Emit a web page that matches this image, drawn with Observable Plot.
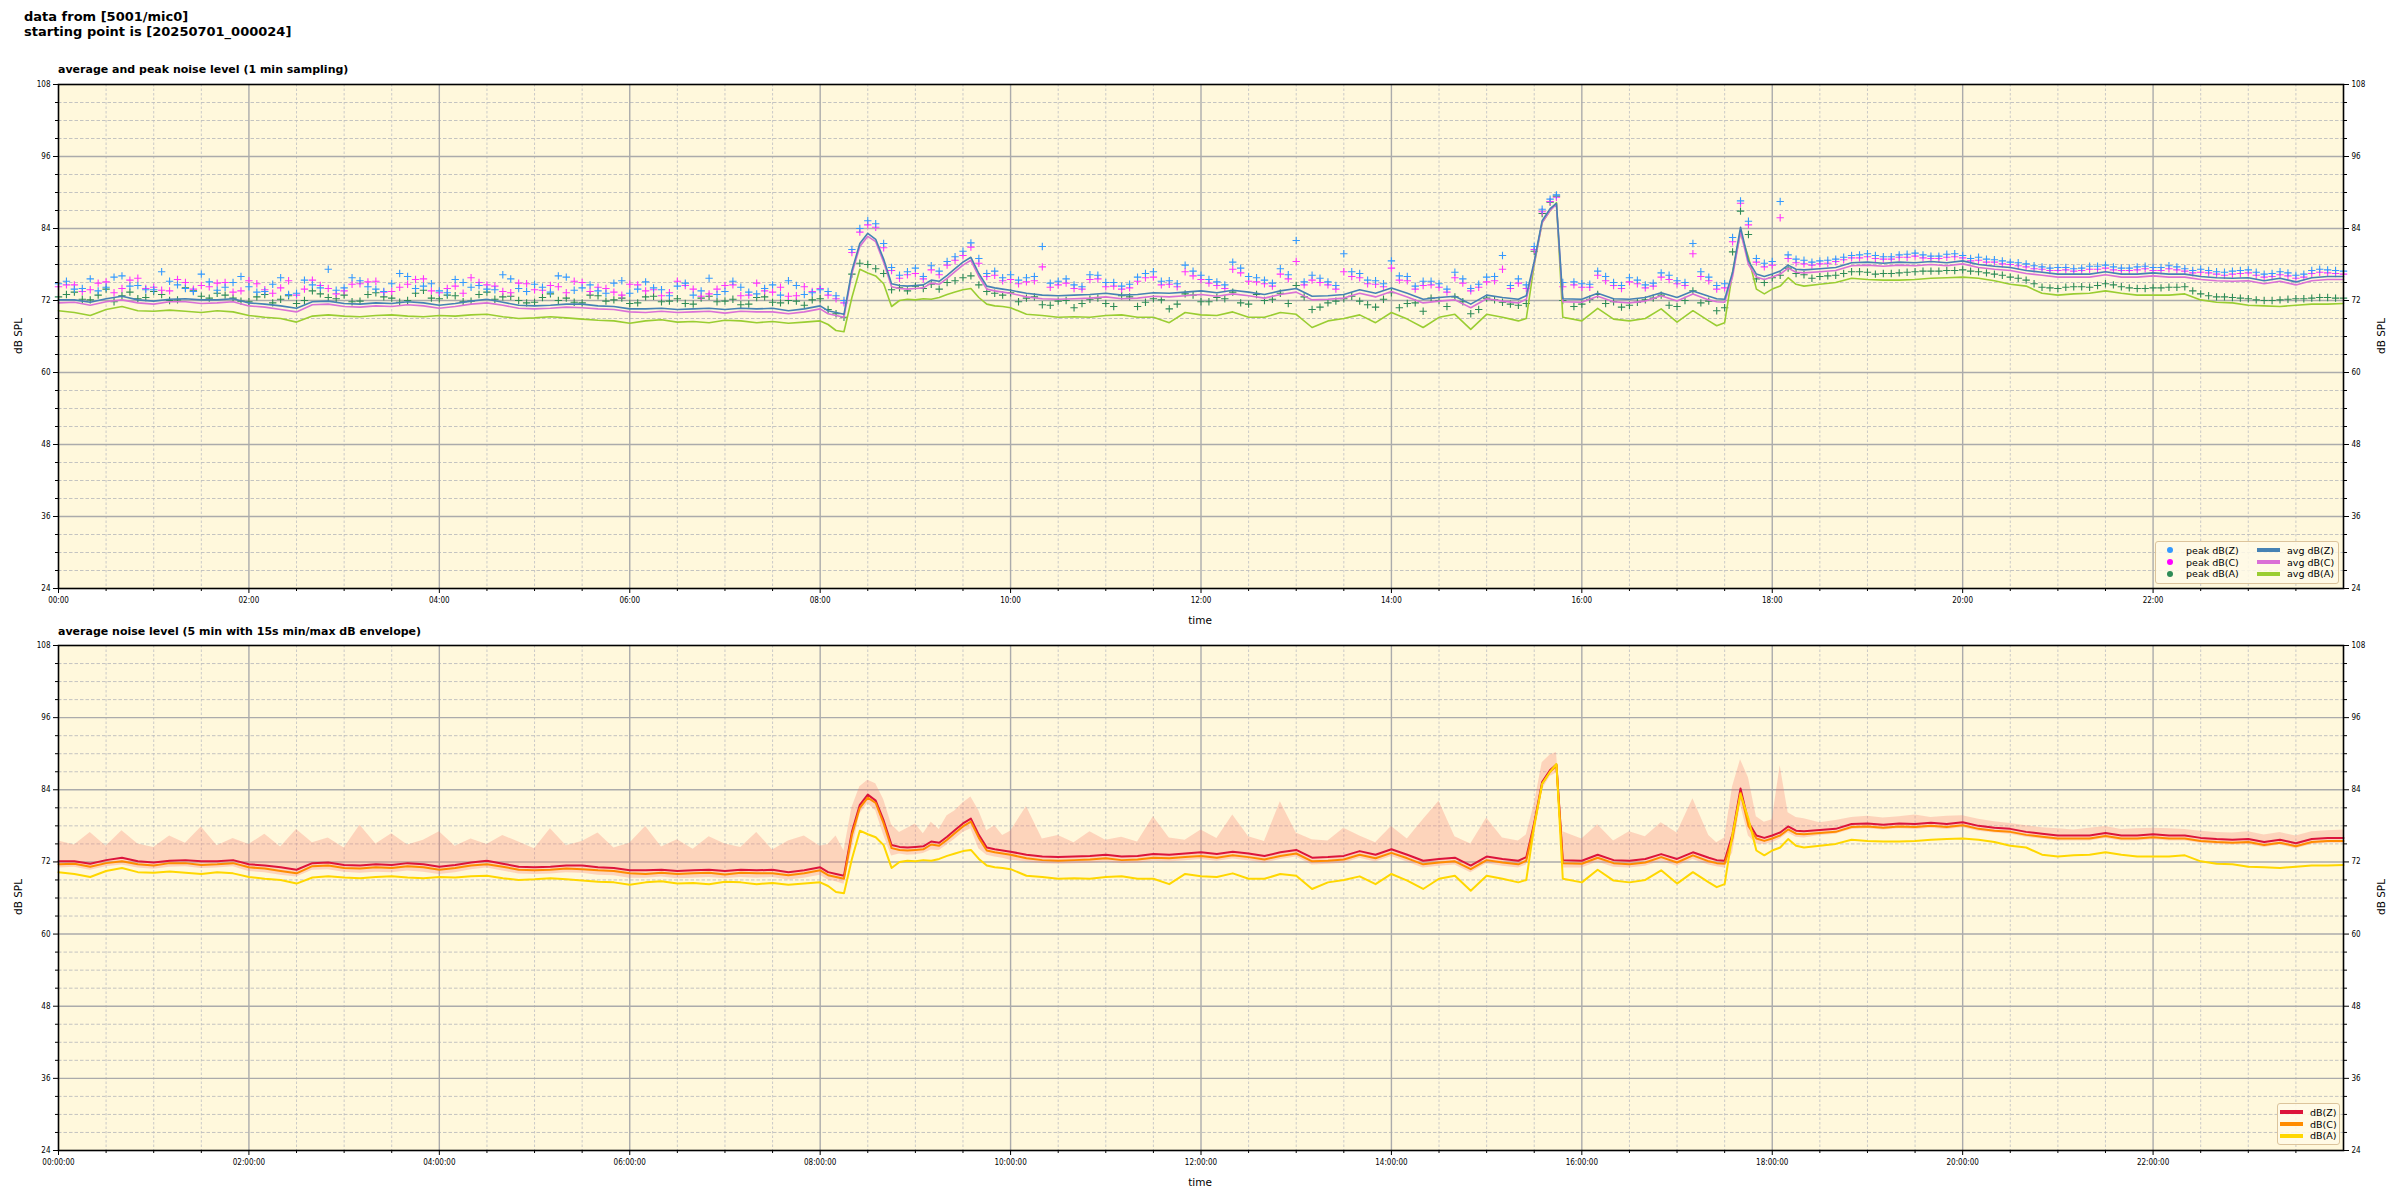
<!DOCTYPE html>
<html><head><meta charset="utf-8">
<script src="https://cdn.jsdelivr.net/npm/d3@7"></script>
<script src="https://cdn.jsdelivr.net/npm/@observablehq/plot@0.6"></script>
<style>
body{margin:0;background:#fff;font-family:"DejaVu Sans",sans-serif;color:#000;}
#root{position:relative;width:2400px;height:1200px;overflow:hidden;}
.abs{position:absolute;white-space:nowrap;}
.title{left:24px;top:10px;font-weight:bold;font-size:13px;line-height:14.5px;}
.sub{left:58px;font-weight:bold;font-size:11px;}
.axl{font-size:10.5px;transform:translate(-50%,-50%);}
.axr{font-size:10.5px;transform:translate(-50%,-50%) rotate(-90deg);}
.legend{position:absolute;background:rgba(255,250,232,0.85);border:1px solid #dcc49c;border-radius:3px;font-size:9.5px;}
.legend span{position:absolute;white-space:nowrap;}
.svgwrap{position:absolute;left:0;}
</style></head>
<body><div id="root">
<div class="abs title">data from [5001/mic0]<br>starting point is [20250701_000024]</div>
<div class="abs sub" style="top:63px">average and peak noise level (1 min sampling)</div>
<div class="abs sub" style="top:625px">average noise level (5 min with 15s min/max dB envelope)</div>
<div id="topchart" class="svgwrap" style="top:64px"></div>
<div id="botchart" class="svgwrap" style="top:625px"></div>
<div class="abs axl" style="left:1200px;top:620px">time</div>
<div class="abs axl" style="left:1200px;top:1182px">time</div>
<div class="abs axr" style="left:18px;top:336px">dB SPL</div>
<div class="abs axr" style="left:2381px;top:336px">dB SPL</div>
<div class="abs axr" style="left:18px;top:897px">dB SPL</div>
<div class="abs axr" style="left:2381px;top:897px">dB SPL</div>
<div id="leg1" class="legend" style="left:2155px;top:541px;width:182px;height:41px;"></div>
<div id="leg2" class="legend" style="left:2277px;top:1103px;width:61px;height:40px;"></div>
</div>
<script>
// sample times (minutes after 00:00)
const times = [
0,10,20,30,40,50,60,70,80,90,100,110,120,130,140,150,160,170,180,190,200,210,220,230,240,250,260,270,280,290,300,310,320,330,340,350,360,370,380,390,400,410,420,430,440,450,460,470,480,
485,490,495,500,505,510,515,520,525,530,535,540,545,550,555,560,565,570,575,580,585,590,595,600,
610,620,630,640,650,660,670,680,690,700,710,720,730,740,750,760,770,780,790,800,810,820,830,840,850,860,870,880,890,900,910,920,
925,930,935,940,944,948,
960,970,980,990,1000,1010,1020,1030,1040,
1045,1050,1055,1060,1065,1070,1075,1080,1085,1090,1095,1100,
1110,1120,1130,1140,1150,1160,1170,1180,1190,1200,1210,1220,1230,1240,1250,1260,1270,1280,1290,1300,1310,1320,1330,1340,1350,1360,1370,1380,1390,1400,1410,1420,1430,1440];

const avgZ = [
72.1,72.1,71.7,72.3,72.7,72.1,71.9,72.2,72.3,72.1,72.1,72.3,71.6,71.4,71.1,70.7,71.8,71.9,71.5,71.4,71.6,71.5,71.8,71.6,71.2,71.5,71.9,72.2,71.7,71.2,71.1,71.2,71.4,71.4,71.1,71.0,70.6,70.6,70.7,70.5,70.6,70.7,70.5,70.7,70.6,70.7,70.3,70.6,71.1,
70.3,70.0,69.7,77.0,81.5,83.2,82.2,78.9,74.8,74.5,74.4,74.5,74.6,75.4,75.2,76.2,77.3,78.4,79.2,76.5,74.4,74.1,73.9,73.7,
73.2,72.9,72.8,72.9,73.0,73.2,72.9,73.0,73.3,73.2,73.4,73.6,73.3,73.7,73.4,73.0,73.6,74.0,72.7,72.8,73.0,73.8,73.2,74.1,73.2,72.2,72.5,72.7,71.4,72.9,72.5,72.2,
72.8,78.5,85.3,87.3,88.2,72.3,
72.2,73.2,72.3,72.2,72.5,73.3,72.5,73.6,72.7,
72.3,72.2,76.7,84.2,78.6,76.4,76.0,76.4,76.9,77.9,77.2,77.1,
77.3,77.5,78.3,78.4,78.2,78.4,78.3,78.5,78.3,78.6,78.0,77.7,77.5,77.0,76.7,76.4,76.4,76.4,76.8,76.4,76.4,76.6,76.4,76.4,76.0,75.8,75.7,75.8,75.3,75.7,75.1,75.8,76.0,76.0];

const avgC = [
71.6,71.7,71.2,71.8,72.1,71.6,71.4,71.8,71.8,71.5,71.6,71.8,71.1,70.9,70.5,70.1,71.3,71.4,71.0,70.9,71.1,71.0,71.3,71.1,70.7,71.0,71.4,71.6,71.2,70.7,70.6,70.7,70.9,70.8,70.6,70.5,70.1,70.0,70.2,70.0,70.1,70.2,69.9,70.2,70.1,70.1,69.8,70.1,70.6,
69.8,69.5,69.2,76.5,81.0,82.7,81.8,78.4,74.3,74.0,73.9,74.0,74.1,74.9,74.7,75.7,76.8,77.9,78.7,76.0,73.9,73.6,73.4,73.2,
72.6,72.3,72.2,72.3,72.4,72.6,72.3,72.4,72.7,72.6,72.8,73.0,72.7,73.1,72.8,72.4,73.0,73.4,72.1,72.2,72.4,73.2,72.6,73.5,72.6,71.6,71.9,72.1,70.8,72.3,71.9,71.6,
72.2,78.2,85.0,87.0,88.0,71.8,
71.7,72.7,71.8,71.6,71.9,72.8,71.9,73.1,72.1,
71.8,71.7,76.0,83.5,78.0,75.9,75.5,75.9,76.4,77.4,76.7,76.6,
76.8,77.0,77.8,77.9,77.7,77.9,77.8,78.0,77.8,78.1,77.5,77.2,77.0,76.5,76.2,75.9,75.9,75.9,76.3,75.9,75.9,76.1,75.9,75.9,75.5,75.3,75.2,75.3,74.8,75.2,74.6,75.3,75.5,75.5];

const avgA = [
70.3,70.0,69.5,70.5,71.0,70.3,70.2,70.4,70.2,70.0,70.3,70.1,69.5,69.2,69.0,68.4,69.4,69.6,69.4,69.3,69.5,69.6,69.4,69.3,69.5,69.4,69.6,69.7,69.3,69.0,69.1,69.3,69.1,68.9,68.7,68.6,68.2,68.6,68.8,68.4,68.5,68.3,68.7,68.6,68.3,68.5,68.2,68.4,68.6,
68.0,67.0,66.8,72.5,77.2,76.6,76.1,74.8,71.0,72.0,72.2,72.1,72.3,72.2,72.5,73.0,73.4,73.8,74.0,72.5,71.4,71.1,71.0,70.8,
69.7,69.5,69.2,69.3,69.2,69.5,69.6,69.2,69.2,68.3,70.0,69.6,69.5,70.1,69.2,69.2,70.0,69.7,67.5,68.6,69.0,69.6,68.3,70.0,68.9,67.5,69.2,69.7,67.2,69.7,69.2,68.6,
69.0,78.0,85.0,87.0,88.3,69.2,
68.6,70.7,68.9,68.6,69.0,70.6,68.4,70.3,68.6,
67.8,68.3,76.7,83.3,79.2,73.9,73.1,73.9,74.4,75.8,74.7,74.4,
74.7,75.0,75.7,75.5,75.4,75.4,75.5,75.7,75.8,75.9,75.7,75.3,74.7,74.4,73.2,72.9,73.1,73.2,73.6,73.2,72.9,72.9,72.9,73.1,72.1,71.7,71.6,71.2,71.1,71.0,71.2,71.4,71.4,71.5];

const peakZ = [
74.8,73.9,75.6,74.2,76.1,74.5,73.8,75.2,74.0,76.4,73.7,75.0,74.3,73.5,75.8,73.2,74.6,77.2,74.1,75.3,73.9,74.8,76.0,74.4,73.6,75.5,74.2,73.9,76.3,74.0,74.7,73.4,75.9,74.1,73.6,74.9,73.2,75.1,73.8,74.4,72.9,75.7,73.5,74.2,73.1,74.6,75.3,73.0,73.8,
73.5,72.8,72.0,80.5,84.0,85.3,84.8,81.5,77.5,76.2,76.8,77.4,76.0,77.8,76.9,78.5,79.3,80.2,81.6,79.0,76.5,76.9,75.8,76.3,
75.8,81.0,75.2,74.6,76.3,75.0,74.4,75.9,76.8,75.3,77.9,76.2,75.1,78.4,76.0,75.4,77.3,82.0,76.2,75.1,79.8,76.5,75.3,78.6,76.0,75.2,74.8,76.7,74.0,75.9,79.5,75.6,
74.6,81.0,87.2,88.9,89.6,75.0,
74.8,76.9,75.0,75.8,74.6,76.6,75.3,81.5,75.9,
74.5,74.8,82.5,88.6,85.2,79.0,78.2,78.5,88.5,79.6,78.9,78.7,
78.6,78.9,79.5,79.8,79.3,79.6,79.9,79.4,79.7,79.5,79.2,78.8,78.4,78.1,77.6,77.5,77.3,77.7,77.9,77.4,77.6,77.5,77.8,77.3,77.2,76.8,76.9,77.1,76.4,76.8,76.2,77.0,77.1,76.9];

const peakC = [
74.3,74.6,73.8,75.1,74.0,75.7,74.2,73.6,75.0,74.5,74.9,73.4,75.3,73.8,74.1,72.9,75.4,74.0,73.6,74.8,75.2,73.5,74.7,75.6,73.3,74.4,75.8,74.6,73.5,74.9,73.8,74.5,73.3,75.0,74.2,73.4,74.7,73.6,72.8,75.2,73.9,73.1,74.5,72.8,74.9,73.4,72.7,74.3,74.0,
72.9,72.3,71.6,80.0,83.4,84.6,84.2,80.8,77.0,75.7,76.3,76.5,75.6,77.1,76.3,77.9,78.7,79.5,80.9,78.2,76.0,76.2,75.3,75.5,
75.1,77.6,74.6,74.0,75.5,74.3,73.9,75.2,75.9,74.7,76.8,75.5,74.5,77.2,75.2,74.8,76.4,78.5,75.4,74.6,76.8,75.8,74.7,77.4,75.3,74.5,74.2,75.8,73.6,75.1,77.2,74.9,
74.0,80.5,86.8,88.5,89.2,74.3,
74.2,76.2,74.5,75.1,74.1,75.9,74.8,79.8,75.3,
73.9,74.1,81.8,88.2,84.6,78.4,77.6,77.9,85.8,79.0,78.3,78.1,
78.1,78.5,79.1,79.3,78.9,79.2,79.4,79.0,79.2,79.1,78.7,78.4,78.0,77.6,77.2,77.0,76.9,77.2,77.4,77.0,77.1,77.0,77.3,76.9,76.7,76.4,76.4,76.6,75.9,76.3,75.7,76.5,76.6,76.4];

const peakA = [
72.6,73.4,72.1,73.9,72.8,72.3,73.5,72.0,74.1,72.7,73.2,72.4,71.8,73.0,72.2,71.5,73.6,72.5,72.9,71.9,73.3,72.4,72.0,73.7,72.3,72.8,71.9,73.4,72.6,72.0,71.7,73.1,72.4,71.6,72.8,72.1,71.5,72.6,71.8,72.3,71.4,72.7,71.9,71.3,72.5,71.7,72.0,71.2,72.3,
70.5,69.8,69.2,76.4,78.2,78.0,77.3,76.5,73.8,74.1,73.6,74.4,74.0,74.7,73.9,75.0,75.3,75.8,76.1,74.6,73.5,73.2,72.9,73.3,
72.4,71.3,71.9,70.8,72.2,71.5,72.8,71.0,72.3,70.6,73.1,71.8,72.5,73.4,71.4,72.0,73.2,74.5,70.5,71.6,72.3,71.9,70.9,73.3,71.5,70.2,72.0,72.6,69.8,72.4,71.7,71.2,
71.5,80.2,86.5,88.4,89.4,72.0,
71.4,73.0,71.8,71.2,72.1,72.9,71.0,73.6,71.9,
70.3,70.8,80.1,86.9,83.0,75.6,75.0,75.8,76.2,77.4,76.5,76.3,
76.0,76.2,76.8,76.7,76.5,76.6,76.8,76.9,77.0,77.1,76.8,76.4,75.9,75.4,74.2,74.0,74.3,74.2,74.8,74.3,74.0,74.1,74.2,74.3,73.1,72.6,72.5,72.3,72.0,72.1,72.3,72.4,72.5,72.4];

// additional peak samples in between the main sample times
const peakTimes2 = [
5,15,25,35,45,55,65,75,85,95,105,115,125,135,145,155,165,175,185,195,205,215,225,235,245,255,265,275,285,295,305,315,325,335,345,355,365,375,385,395,405,415,425,435,445,455,465,475,
605,615,625,635,645,655,665,675,685,695,705,715,725,735,745,755,765,775,785,795,805,815,825,835,845,855,865,875,885,895,905,915,
955,965,975,985,995,1005,1015,1025,1035,
1105,1115,1125,1135,1145,1155,1165,1175,1185,1195,1205,1215,1225,1235,1245,1255,1265,1275,1285,1295,1305,1315,1325,1335,1345,1355,1365,1375,1385,1395,1405,1415,1425,1435];

const peakZ2 = [
75.2,74.0,73.6,75.9,74.4,73.8,76.8,74.6,73.5,75.1,74.2,76.0,73.4,74.7,73.0,75.4,74.1,73.7,75.8,74.3,73.5,76.5,74.0,74.8,73.3,75.0,74.5,73.8,75.6,73.5,74.2,76.1,73.7,74.6,73.2,75.3,73.9,74.1,72.8,74.9,73.6,73.0,75.2,73.4,74.0,72.9,74.5,73.3,
75.4,76.0,74.9,75.6,74.3,76.2,75.0,74.7,76.5,75.2,74.8,76.9,75.5,74.6,77.4,75.8,74.9,76.3,75.1,75.7,74.5,76.8,75.4,74.8,76.1,74.4,75.2,73.9,75.6,74.7,76.0,74.5,
75.1,74.7,76.0,74.5,75.4,74.9,76.2,75.0,76.8,
78.4,78.7,79.2,79.6,79.5,79.3,79.7,79.6,79.4,79.8,79.0,78.9,78.6,78.3,77.8,77.4,77.5,77.4,77.7,77.6,77.4,77.7,77.5,77.6,77.0,77.0,76.7,77.0,76.7,76.5,76.6,76.4,77.2,77.0];

const peakC2 = [
74.6,73.5,74.9,73.3,75.4,74.0,73.7,75.5,73.9,74.3,75.0,73.6,74.8,73.2,75.3,73.9,74.5,73.1,74.7,75.1,73.4,74.2,75.5,73.6,74.0,73.2,75.0,74.4,73.3,74.8,73.7,74.3,75.2,73.5,74.0,72.9,74.6,73.8,73.3,74.5,72.7,73.9,74.6,72.9,73.6,74.2,72.8,73.5,
74.8,75.3,74.2,74.9,73.9,75.6,74.4,74.1,75.8,74.6,74.3,76.1,74.9,74.0,76.6,75.1,74.4,75.6,74.6,75.0,73.9,76.0,74.8,74.3,75.4,73.9,74.6,73.4,74.9,74.2,75.3,74.0,
74.6,74.2,75.3,74.0,74.8,74.4,75.5,74.5,76.0,
77.9,78.2,78.8,79.1,79.0,78.9,79.2,79.1,79.0,79.3,78.6,78.4,78.1,77.8,77.3,77.0,77.1,77.0,77.2,77.1,77.0,77.3,77.0,77.1,76.6,76.6,76.2,76.5,76.2,76.0,76.1,75.9,76.7,76.5];

const peakA2 = [
73.0,72.2,72.9,71.8,73.4,72.5,73.0,72.1,73.6,72.4,72.9,71.9,72.6,71.6,72.8,72.0,73.1,72.3,71.8,73.0,72.6,71.7,73.2,72.4,72.9,71.8,73.0,72.2,72.7,71.6,72.5,72.0,71.7,72.9,71.9,72.4,71.6,72.7,71.9,71.5,72.4,71.8,72.2,71.4,72.6,71.6,71.9,72.1,
71.8,72.6,71.2,72.0,71.5,72.4,71.0,72.6,71.7,72.1,71.4,72.9,71.8,72.3,71.6,73.0,72.2,71.5,72.6,70.9,71.9,72.7,71.3,72.2,70.8,71.6,72.4,71.0,71.8,70.5,72.1,71.4,
71.0,72.2,71.5,70.9,71.7,72.4,71.2,72.0,71.6,
75.7,76.1,76.5,76.8,76.4,76.5,76.7,76.9,76.9,77.0,76.9,76.6,76.2,75.7,74.8,74.1,74.2,74.3,74.5,74.6,74.1,74.0,74.1,74.2,73.6,72.8,72.6,72.4,72.1,72.0,72.2,72.3,72.5,72.4];

// 15 s min/max envelope
const envMax = [
75.5,74.8,76.9,74.6,77.2,75.0,74.4,76.3,75.1,77.8,74.7,75.9,74.9,76.6,74.5,77.4,75.2,76.0,74.3,78.1,75.0,76.7,74.8,75.6,77.0,74.6,75.8,74.9,76.4,75.3,74.2,77.5,74.7,75.4,76.8,74.3,75.1,77.9,74.5,75.7,74.1,76.2,75.0,74.4,76.9,74.0,75.5,76.3,74.6,
74.9,76.3,73.8,81.0,84.5,85.6,85.0,82.4,78.2,76.9,77.6,78.3,76.7,78.6,77.4,79.7,80.5,81.8,82.8,80.5,77.2,78.0,76.4,77.1,
81.2,75.8,76.4,75.2,77.0,75.6,76.1,75.3,79.5,76.0,75.6,77.3,75.9,79.8,76.2,75.4,82.0,76.8,75.7,75.5,77.6,76.3,75.2,77.9,75.8,79.0,82.1,76.2,75.0,79.3,76.0,75.5,
76.5,81.5,88.5,89.8,90.2,77.0,
75.8,78.2,75.5,77.0,76.2,78.5,76.8,82.5,76.4,
75.2,76.0,84.5,89.0,86.0,79.5,78.6,79.0,88.0,80.2,79.4,79.2,
78.5,78.9,79.4,79.6,79.3,79.5,79.8,79.4,79.6,79.7,79.1,78.7,78.4,78.0,77.7,77.5,77.3,77.6,77.9,77.4,77.5,77.6,77.5,77.4,77.1,76.9,76.8,77.0,76.5,76.9,76.3,77.0,77.2,77.3];

const envMin = [
71.0,71.1,70.6,71.2,71.5,71.0,70.8,71.1,71.2,70.9,71.0,71.2,70.4,70.2,69.8,69.5,70.6,70.7,70.3,70.1,70.3,70.2,70.5,70.3,69.9,70.2,70.7,71.0,70.5,70.0,69.9,70.0,70.2,70.1,69.8,69.7,69.3,69.3,69.5,69.2,69.3,69.4,69.2,69.4,69.3,69.4,69.0,69.3,69.8,
69.0,68.7,68.3,74.0,80.0,81.7,80.5,76.5,73.0,73.3,73.1,73.2,73.4,74.0,73.9,74.8,75.8,76.9,77.5,74.2,73.1,72.8,72.6,72.3,
72.0,71.7,71.6,71.7,71.8,72.0,71.7,71.8,72.1,72.0,72.2,72.4,72.1,72.5,72.2,71.8,72.4,72.8,71.5,71.6,71.8,72.6,72.0,72.9,72.0,71.0,71.3,71.5,70.2,71.7,71.3,71.0,
71.5,76.0,84.0,86.2,86.8,71.0,
71.0,72.0,71.1,71.0,71.3,72.1,71.3,72.4,71.5,
71.2,71.0,73.5,81.5,76.3,75.0,74.9,75.2,75.8,76.8,76.1,76.0,
76.4,76.6,77.4,77.5,77.3,77.5,77.4,77.6,77.4,77.7,77.1,76.8,76.6,76.1,75.8,75.5,75.5,75.5,75.9,75.5,75.5,75.7,75.5,75.5,75.1,74.9,74.8,74.9,74.4,74.8,74.2,74.9,75.1,75.1];

// tick values
const majorXTicks = [0,120,240,360,480,600,720,840,960,1080,1200,1320];
const minorXTicks = d3.range(30, 1440, 30).filter(m => m % 120 !== 0);
const majorYTicks = [24,36,48,60,72,84,96,108];
const minorYTicks = d3.range(27, 108, 3).filter(v => v % 12 !== 0);

(function () {
const pad = n => String(n).padStart(2, "0");
const fmtHM = m => pad(Math.floor(m / 60)) + ":" + pad(m % 60);
const fmtHMS = m => fmtHM(m) + ":00";

const rows = times.map((t, i) => ({
  t, avgZ: avgZ[i], avgC: avgC[i], avgA: avgA[i],
  peakZ: peakZ[i], peakC: peakC[i], peakA: peakA[i],
  envMax: envMax[i], envMin: envMin[i]
}));
const peakRows = rows.map(r => ({t: r.t, peakZ: r.peakZ, peakC: r.peakC, peakA: r.peakA}))
  .concat(peakTimes2.map((t, i) => ({t, peakZ: peakZ2[i], peakC: peakC2[i], peakA: peakA2[i]})));

function frameMarks() {
  return [
    Plot.frame({fill: "#fff8dc", stroke: "none"}),
    Plot.gridX({ticks: minorXTicks, stroke: "#c4c4c4", strokeOpacity: 1, strokeWidth: 0.9, strokeDasharray: "2.5,2"}),
    Plot.gridY({ticks: minorYTicks, stroke: "#bdbdbd", strokeOpacity: 1, strokeWidth: 0.9, strokeDasharray: "3.5,2"}),
    Plot.gridX({ticks: majorXTicks.slice(1), stroke: "#ababab", strokeOpacity: 1, strokeWidth: 1.4}),
    Plot.gridY({ticks: majorYTicks.slice(1, -1), stroke: "#ababab", strokeOpacity: 1, strokeWidth: 1.4})
  ];
}
function axisMarks(fmt) {
  return [
    Plot.frame({stroke: "#000", strokeWidth: 1.6}),
    Plot.axisX({ticks: majorXTicks, tickFormat: fmt, tickSize: 5, tickPadding: 4, label: null}),
    Plot.axisX({ticks: minorXTicks, tickFormat: () => "", tickSize: 3, label: null}),
    Plot.axisY({anchor: "left", ticks: majorYTicks, tickFormat: d => String(d), tickSize: 5, tickPadding: 3, label: null}),
    Plot.axisY({anchor: "left", ticks: minorYTicks, tickFormat: () => "", tickSize: 3, label: null}),
    Plot.axisY({anchor: "right", ticks: majorYTicks, tickFormat: d => String(d), tickSize: 5, tickPadding: 3, label: null}),
    Plot.axisY({anchor: "right", ticks: minorYTicks, tickFormat: () => "", tickSize: 3, label: null})
  ];
}
const common = {
  width: 2400, marginLeft: 58, marginRight: 57, marginTop: 20, marginBottom: 45,
  x: {domain: [0, 1440]},
  y: {domain: [24, 108]},
  style: {background: "transparent", fontFamily: "DejaVu Sans", fontSize: "8px", overflow: "visible", fontStretch: "condensed"}
};

const topPlot = Plot.plot({
  ...common, height: 569,
  marks: [
    ...frameMarks(),
    Plot.dot(peakRows, {x: "t", y: "peakA", symbol: "plus", r: 2.5, stroke: "#2e8b57", strokeWidth: 1.1}),
    Plot.dot(peakRows, {x: "t", y: "peakC", symbol: "plus", r: 2.5, stroke: "#ff33ff", strokeWidth: 1.1}),
    Plot.dot(peakRows, {x: "t", y: "peakZ", symbol: "plus", r: 2.5, stroke: "#3399ff", strokeWidth: 1.1}),
    Plot.line(rows, {x: "t", y: "avgA", stroke: "#9acd32", strokeWidth: 1.6}),
    Plot.line(rows, {x: "t", y: "avgC", stroke: "#da70d6", strokeWidth: 1.6}),
    Plot.line(rows, {x: "t", y: "avgZ", stroke: "#4682b4", strokeWidth: 1.6}),
    ...axisMarks(fmtHM)
  ]
});
document.getElementById("topchart").appendChild(topPlot);

const botPlot = Plot.plot({
  ...common, height: 570,
  marks: [
    ...frameMarks(),
    Plot.areaY(rows, {x: "t", y1: "envMin", y2: "envMax", fill: "#fa8072", fillOpacity: 0.3}),
    Plot.line(rows, {x: "t", y: "avgZ", stroke: "#dc143c", strokeWidth: 2}),
    Plot.line(rows, {x: "t", y: "avgC", stroke: "#ff8c00", strokeWidth: 2}),
    Plot.line(rows, {x: "t", y: "avgA", stroke: "#ffd700", strokeWidth: 2}),
    ...axisMarks(fmtHMS)
  ]
});
document.getElementById("botchart").appendChild(botPlot);

// legends
const leg1Items = [
  {kind: "dot", color: "#3399ff", label: "peak dB(Z)", col: 0, row: 0},
  {kind: "dot", color: "#ff00ff", label: "peak dB(C)", col: 0, row: 1},
  {kind: "dot", color: "#2e8b57", label: "peak dB(A)", col: 0, row: 2},
  {kind: "line", color: "#4682b4", label: "avg dB(Z)", col: 1, row: 0},
  {kind: "line", color: "#da70d6", label: "avg dB(C)", col: 1, row: 1},
  {kind: "line", color: "#9acd32", label: "avg dB(A)", col: 1, row: 2}
];
const leg2Items = [
  {kind: "line", color: "#dc143c", label: "dB(Z)", col: 0, row: 0},
  {kind: "line", color: "#ff8c00", label: "dB(C)", col: 0, row: 1},
  {kind: "line", color: "#ffd700", label: "dB(A)", col: 0, row: 2}
];
function buildLegend(el, items, colX, rowY) {
  for (const it of items) {
    const x0 = colX[it.col], y = rowY[it.row];
    const m = document.createElement("span");
    let tx;
    if (it.kind === "dot") {
      m.style.cssText = `left:${x0 - 3}px;top:${y - 3}px;width:6px;height:6px;border-radius:50%;background:${it.color};`;
      tx = x0 + 16;
    } else {
      m.style.cssText = `left:${x0}px;top:${y - 2}px;width:23px;height:4px;background:${it.color};`;
      tx = x0 + 30;
    }
    el.appendChild(m);
    const t = document.createElement("span");
    t.textContent = it.label;
    t.style.cssText = `left:${tx}px;top:${y - 6.5}px;line-height:13px;`;
    el.appendChild(t);
  }
}
buildLegend(document.getElementById("leg1"), leg1Items, [14, 101], [8, 20, 31.5]);
buildLegend(document.getElementById("leg2"), leg2Items, [2], [8, 20, 31.5]);
})();
</script>
</body></html>
